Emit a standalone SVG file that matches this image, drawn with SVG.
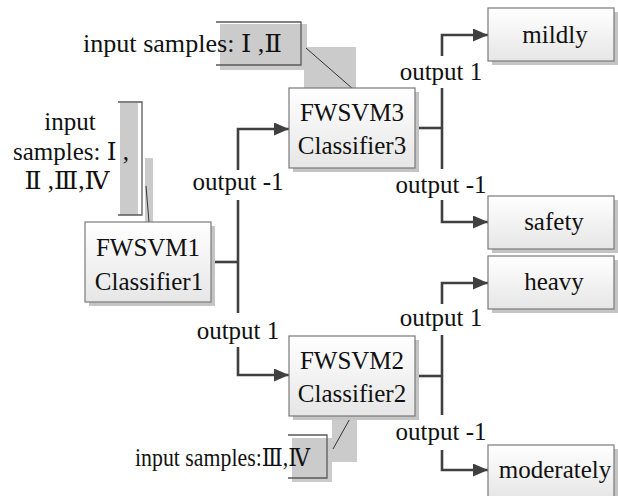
<svg xmlns="http://www.w3.org/2000/svg" width="618" height="496" viewBox="0 0 618 496" font-family="'Liberation Serif', 'DejaVu Serif', serif" font-size="25">
  <defs>
    <linearGradient id="boxFill" x1="0" y1="0" x2="0" y2="1">
      <stop offset="0" stop-color="#ffffff"/>
      <stop offset="1" stop-color="#e6e6e6"/>
    </linearGradient>
    <marker id="arrow" markerUnits="userSpaceOnUse" markerWidth="15" markerHeight="13" refX="15" refY="6.5" orient="auto">
      <path d="M0,0 L15,6.5 L0,13 Z" fill="#404040"/>
    </marker>
  </defs>
  <style>
    text { fill: #111; }
    .mid { text-anchor: middle; }
    .box { fill: url(#boxFill); stroke: #7a7a7a; stroke-width: 1.2; }
    .shadow { fill: #c4c4c4; }
    .wire { fill: none; stroke: #404040; stroke-width: 2.6; }
    .tag { fill: #cbcbcb; }
    .brace { fill: none; stroke: #5a5a5a; stroke-width: 1.3; }
    .lead { fill: none; stroke: #333; stroke-width: 1; }
  </style>

  <rect width="618" height="496" fill="#ffffff"/>

  <!-- callout: input samples I, II (to classifier 3) -->
  <g id="callout-top">
    <rect class="tag" x="220" y="24" width="87" height="46"/>
    <rect class="tag" x="304" y="47" width="52" height="46"/>
    <path class="brace" d="M216,22 H301 V65 H216"/>
    <line class="lead" x1="306" y1="48" x2="353" y2="89"/>
    <text x="83" y="52" textLength="199" lengthAdjust="spacingAndGlyphs">input samples: Ⅰ ,Ⅱ</text>
  </g>

  <!-- callout: input samples I..IV (to classifier 1) -->
  <g id="callout-left">
    <rect class="tag" x="120" y="103" width="18" height="112"/>
    <rect class="tag" x="145" y="158" width="8" height="69"/>
    <path class="brace" d="M118,102 H142 V215 H118"/>
    <line class="lead" x1="146" y1="186" x2="149" y2="222"/>
    <text class="mid" x="70" y="130">input</text>
    <text class="mid" x="71" y="160">samples: Ⅰ ,</text>
    <text class="mid" x="67" y="189">Ⅱ ,Ⅲ,Ⅳ</text>
  </g>

  <!-- callout: input samples III, IV (to classifier 2) -->
  <g id="callout-bottom">
    <rect class="tag" x="292" y="438" width="40" height="44"/>
    <rect class="tag" x="332" y="418" width="25" height="44"/>
    <path class="brace" d="M288,435 H327 V478 H288"/>
    <line class="lead" x1="352" y1="415" x2="333" y2="449"/>
    <text x="135" y="466" textLength="175" lengthAdjust="spacingAndGlyphs">input samples:Ⅲ,Ⅳ</text>
  </g>

  <!-- connectors -->
  <g id="connectors">
    <!-- classifier 1 split -->
    <path class="wire" d="M211,262 H238"/>
    <path class="wire" d="M238,170 V129 H289" marker-end="url(#arrow)"/>
    <path class="wire" d="M238,200 V313"/>
    <path class="wire" d="M238,347 V375 H289" marker-end="url(#arrow)"/>
    <!-- classifier 3 split -->
    <path class="wire" d="M415,128 H442"/>
    <path class="wire" d="M442,56 V35 H488" marker-end="url(#arrow)"/>
    <path class="wire" d="M442,88 V169"/>
    <path class="wire" d="M442,200 V222 H488" marker-end="url(#arrow)"/>
    <!-- classifier 2 split -->
    <path class="wire" d="M415,376 H442"/>
    <path class="wire" d="M442,304 V283 H488" marker-end="url(#arrow)"/>
    <path class="wire" d="M442,335 V415"/>
    <path class="wire" d="M442,450 V470 H488" marker-end="url(#arrow)"/>

    <text class="mid" x="238" y="190">output -1</text>
    <text class="mid" x="238" y="339">output 1</text>
    <text class="mid" x="441" y="80">output 1</text>
    <text class="mid" x="441" y="193">output -1</text>
    <text class="mid" x="441" y="326">output 1</text>
    <text class="mid" x="441" y="440">output -1</text>
  </g>

  <g id="fwsvm1">
    <rect class="shadow" x="89" y="226" width="126" height="80"/>
    <rect class="box" x="85" y="222" width="126" height="80"/>
    <text class="mid" x="148" y="256">FWSVM1</text>
    <text class="mid" x="149" y="290">Classifier1</text>
  </g>

  <g id="fwsvm3">
    <rect class="shadow" x="293" y="92" width="126" height="80"/>
    <rect class="box" x="289" y="88" width="126" height="80"/>
    <text class="mid" x="352" y="121">FWSVM3</text>
    <text class="mid" x="352" y="154">Classifier3</text>
  </g>

  <g id="fwsvm2">
    <rect class="shadow" x="293" y="340" width="126" height="80"/>
    <rect class="box" x="289" y="336" width="126" height="80"/>
    <text class="mid" x="352" y="369">FWSVM2</text>
    <text class="mid" x="352" y="402">Classifier2</text>
  </g>

  <g id="mildly">
    <rect class="shadow" x="492" y="12" width="126" height="53"/>
    <rect class="box" x="488" y="8" width="126" height="53"/>
    <text class="mid" x="555" y="43">mildly</text>
  </g>

  <g id="safety">
    <rect class="shadow" x="492" y="200" width="126" height="53"/>
    <rect class="box" x="488" y="196" width="126" height="53"/>
    <text class="mid" x="554" y="230">safety</text>
  </g>

  <g id="heavy">
    <rect class="shadow" x="492" y="260" width="126" height="53"/>
    <rect class="box" x="488" y="256" width="126" height="53"/>
    <text class="mid" x="554" y="290">heavy</text>
  </g>

  <g id="moderately">
    <rect class="shadow" x="492" y="449" width="126" height="53"/>
    <rect class="box" x="488" y="445" width="126" height="53"/>
    <text class="mid" x="555" y="478">moderately</text>
  </g>
</svg>
